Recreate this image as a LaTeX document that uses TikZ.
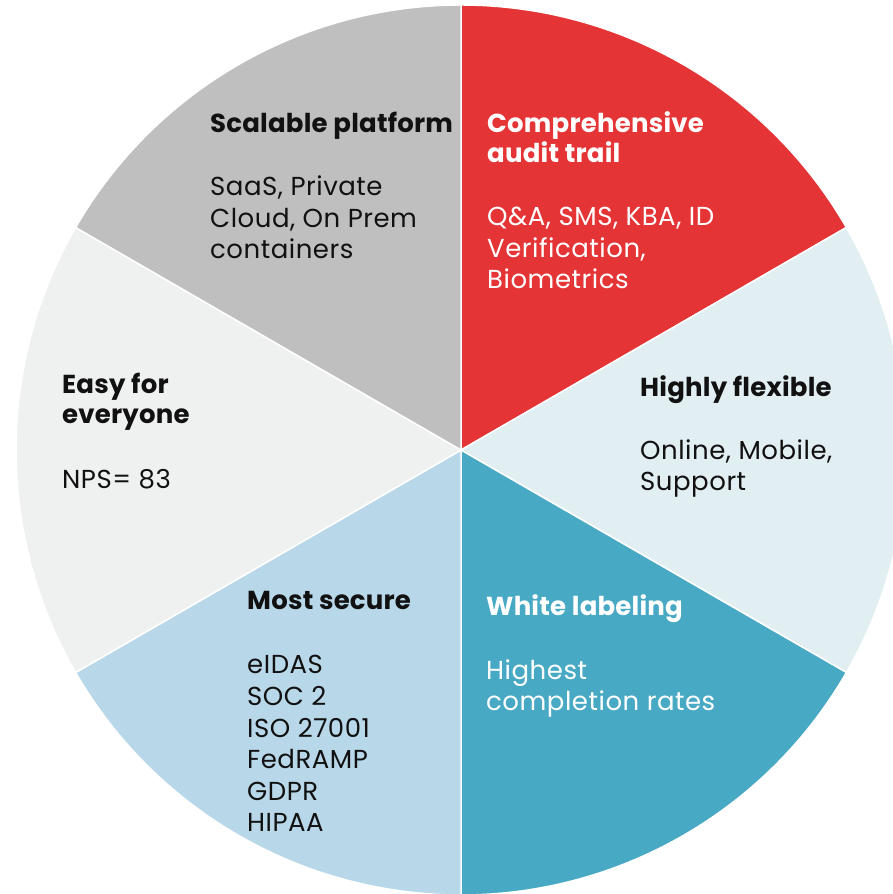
\documentclass[tikz,border=0pt]{standalone}
\usepackage{fontspec}
\setmainfont{Poppins}[LetterSpace=2]
\newfontfamily\headfont{Poppins}[LetterSpace=0.8]
\usetikzlibrary{positioning}
\definecolor{redslice}{HTML}{E43435}
\definecolor{grayslice}{HTML}{BEBFBE}
\definecolor{paleslice}{HTML}{EFF1F0}
\definecolor{iceslice}{HTML}{E1EEF2}
\definecolor{tealslice}{HTML}{48A9C4}
\definecolor{skyslice}{HTML}{B8D8E9}
\definecolor{ink}{HTML}{111111}

\begin{document}
\begin{tikzpicture}[x=1pt,y=1pt,
	slice/.style={draw=white,line width=1.5pt,line join=round},
	head/.style={anchor=base west,align=left,inner sep=0pt,font=\fontsize{26}{30.5}\headfont\bfseries},
	body/.style={anchor=base west,align=left,inner sep=0pt,font=\fontsize{26}{31.6}\selectfont}]
	\useasboundingbox (0,0) rectangle (892,894);
	\coordinate(0) at (461,444);

	% slices
	\filldraw[slice,fill=redslice] (0) -- ++(90:445) arc[start angle=90,end angle=30,radius=445] -- cycle;
	\filldraw[slice,fill=iceslice] (0) -- ++(30:445) arc[start angle=30,end angle=-30,radius=445] -- cycle;
	\filldraw[slice,fill=tealslice] (0) -- ++(-30:445) arc[start angle=-30,end angle=-90,radius=445] -- cycle;
	\filldraw[slice,fill=skyslice] (0) -- ++(-90:445) arc[start angle=-90,end angle=-150,radius=445] -- cycle;
	\filldraw[slice,fill=paleslice] (0) -- ++(-150:445) arc[start angle=-150,end angle=-210,radius=445] -- cycle;
	\filldraw[slice,fill=grayslice] (0) -- ++(150:445) arc[start angle=150,end angle=90,radius=445] -- cycle;

	% labels (base = last line)
	\node[head,ink] (scalable) at (210,761) {Scalable platform};
	\node[body,ink] (scalable-txt) at (210,635) {SaaS, Private\\Cloud, On Prem\\containers};

	\node[head,white] (audit) at (487,731) {Comprehensive\\audit trail};
	\node[body,white] (audit-txt) at (487,605) {Q\&A, SMS, KBA, ID\\Verification,\\Biometrics};

	\node[head,ink] (flexible) at (640,497) {Highly flexible};
	\node[body,ink] (flexible-txt) at (640,403) {Online, Mobile,\\Support};

	\node[head,white] (labeling) at (486,278) {White labeling};
	\node[body,white] (labeling-txt) at (486,183) {Highest\\completion rates};

	\node[head,ink] (secure) at (247,284) {Most secure};
	\node[body,ink] (secure-txt) at (247,62) {eIDAS\\SOC 2\\ISO 27001\\FedRAMP\\GDPR\\HIPAA};

	\node[head,ink] (easy) at (62,470) {Easy for\\everyone};
	\node[body,ink] (easy-txt) at (62,405) {NPS= 83};
\end{tikzpicture}
\end{document}
